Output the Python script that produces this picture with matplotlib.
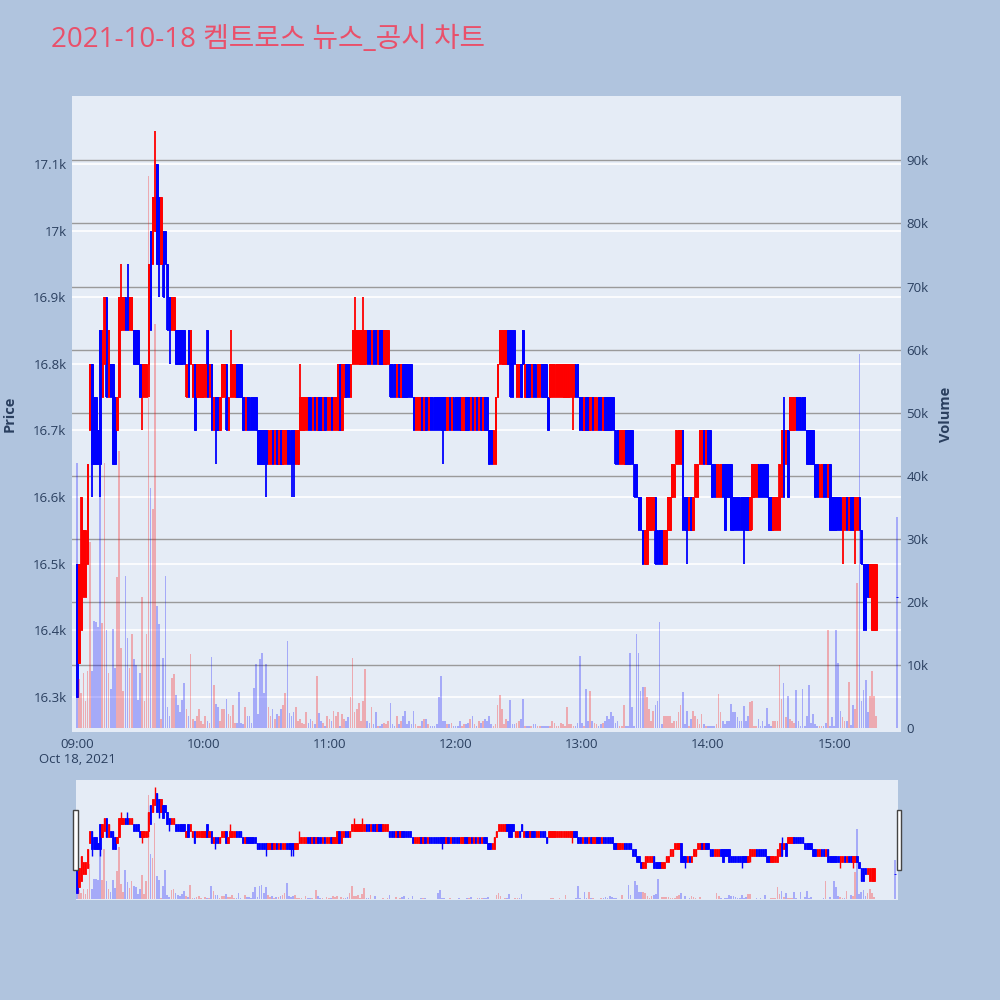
import matplotlib
matplotlib.use('Agg')
import matplotlib.pyplot as plt
import matplotlib.dates as mdates
from matplotlib.patches import Rectangle
from matplotlib.ticker import FuncFormatter, FixedLocator
import numpy as np
import pandas as pd

plt.rcParams['font.family'] = ['Open Sans', 'Noto Sans CJK KR', 'DejaVu Sans']

# one candle per minute 09:00-15:20, plus the 15:30 closing auction
times = list(pd.date_range('2021-10-18 09:00', '2021-10-18 15:20', freq='min')) + [pd.Timestamp('2021-10-18 15:30')]

opens = [
    16500, 16350, 16400, 16450, 16450, 16500, 16700, 16800, 16750, 16750,
    16700, 16850, 16750, 16800, 16900, 16750, 16800, 16800, 16750, 16700,
    16750, 16850, 16850, 16900, 16900, 16850, 16850, 16850, 16850, 16850,
    16800, 16750, 16750, 16750, 16800, 17000, 16950, 17000, 17100, 17050,
    16950, 17000, 17000, 16950, 16900, 16850, 16850, 16850, 16850, 16850,
    16850, 16850, 16750, 16850, 16800, 16750, 16800, 16750, 16750, 16750,
    16750, 16750, 16850, 16750,
    16800, 16700, 16750, 16750, 16700, 16750, 16750, 16800, 16700, 16750,
    16750, 16750, 16800, 16800, 16800, 16750, 16700, 16750, 16750, 16750,
    16750, 16750, 16700, 16700, 16700, 16700, 16700, 16650, 16650, 16700,
    16650, 16700, 16650, 16700, 16650, 16650, 16700, 16700, 16700, 16700,
    16650, 16650, 16700, 16700, 16700, 16700, 16750, 16750, 16700, 16750,
    16700, 16750, 16750, 16700, 16750, 16700, 16700, 16750, 16700, 16700,
    16700, 16800, 16700, 16750,
    16800, 16800, 16750, 16800, 16800, 16800, 16800, 16800, 16800, 16800,
    16850, 16850, 16800, 16850, 16850, 16800, 16850, 16850, 16800, 16800,
    16800, 16800, 16800, 16800, 16750, 16800, 16750, 16800, 16800, 16800,
    16800, 16800, 16750, 16700, 16700, 16700, 16750, 16700, 16750, 16700,
    16750, 16750, 16750, 16750, 16750, 16750, 16750, 16750, 16700, 16750,
    16700, 16750, 16750, 16750, 16750, 16700, 16700, 16750, 16750, 16700,
    16750, 16700, 16750, 16700,
    16750, 16700, 16750, 16750, 16700, 16700, 16650, 16650, 16750, 16800,
    16800, 16800, 16800, 16850, 16850, 16850, 16850, 16750, 16750, 16800,
    16850, 16750, 16800, 16800, 16750, 16800, 16800, 16750, 16750, 16800,
    16800, 16800, 16750, 16750, 16750, 16750, 16750, 16750, 16750, 16750,
    16750, 16750, 16750, 16750, 16750, 16800, 16800, 16750, 16750, 16700,
    16750, 16750, 16700, 16750, 16700, 16700, 16750, 16750, 16700, 16750,
    16750, 16750, 16750, 16750,
    16700, 16700, 16650, 16650, 16650, 16700, 16700, 16700, 16700, 16650,
    16650, 16600, 16600, 16550, 16500, 16500, 16550, 16550, 16550, 16600,
    16550, 16550, 16550, 16500, 16500, 16550, 16550, 16600, 16600, 16650,
    16650, 16650, 16700, 16600, 16600, 16550, 16600, 16550, 16600, 16600,
    16650, 16650, 16700, 16650, 16700, 16700, 16650, 16650, 16600, 16600,
    16600, 16650, 16650, 16650, 16650, 16650, 16600, 16600, 16600, 16600,
    16600, 16600, 16600, 16600, 16550,
    16600, 16600, 16600, 16650, 16650, 16650, 16650, 16650, 16600, 16600,
    16550, 16550, 16550, 16550, 16600, 16700, 16650, 16700, 16700, 16700,
    16700, 16750, 16750, 16750, 16750, 16750, 16700, 16700, 16700, 16700,
    16650, 16650, 16600, 16600, 16650, 16650, 16600, 16650, 16600, 16600,
    16600, 16600, 16600, 16550, 16550, 16600, 16550, 16600, 16600, 16550,
    16550, 16600, 16550, 16500, 16500, 16500, 16450, 16400, 16400, 16400,
    16450,
]

closes = [
    16300, 16500, 16600, 16550, 16550, 16650, 16800, 16650, 16650, 16650,
    16650, 16650, 16850, 16900, 16750, 16850, 16750, 16650, 16650, 16750,
    16900, 16900, 16900, 16850, 16850, 16900, 16900, 16800, 16800, 16800,
    16750, 16800, 16800, 16800, 16950, 16850, 17050, 17050, 16950, 16950,
    17050, 16900, 16950, 16850, 16850, 16900, 16900, 16800, 16800, 16800,
    16800, 16800, 16800, 16750, 16850, 16800, 16700, 16800, 16800, 16800,
    16800, 16800, 16750, 16800,
    16700, 16750, 16700, 16700, 16750, 16800, 16800, 16700, 16750, 16800,
    16800, 16800, 16750, 16750, 16750, 16700, 16750, 16700, 16700, 16700,
    16700, 16700, 16650, 16650, 16650, 16650, 16650, 16700, 16700, 16650,
    16700, 16650, 16700, 16650, 16700, 16700, 16650, 16650, 16650, 16650,
    16700, 16700, 16750, 16750, 16750, 16750, 16700, 16700, 16750, 16700,
    16750, 16700, 16700, 16750, 16700, 16750, 16750, 16700, 16750, 16750,
    16800, 16700, 16800, 16800,
    16750, 16750, 16800, 16850, 16850, 16850, 16850, 16850, 16850, 16850,
    16800, 16800, 16850, 16800, 16800, 16850, 16800, 16800, 16850, 16850,
    16850, 16750, 16750, 16750, 16800, 16750, 16800, 16750, 16750, 16750,
    16750, 16750, 16700, 16750, 16750, 16750, 16700, 16750, 16700, 16750,
    16700, 16700, 16700, 16700, 16700, 16700, 16700, 16700, 16750, 16700,
    16750, 16700, 16700, 16700, 16700, 16750, 16750, 16700, 16700, 16750,
    16700, 16750, 16700, 16750,
    16700, 16750, 16700, 16700, 16650, 16650, 16700, 16750, 16800, 16850,
    16850, 16850, 16850, 16800, 16750, 16750, 16800, 16800, 16800, 16750,
    16800, 16800, 16750, 16750, 16800, 16750, 16750, 16800, 16800, 16750,
    16750, 16750, 16700, 16800, 16800, 16800, 16800, 16800, 16800, 16800,
    16800, 16800, 16800, 16800, 16800, 16750, 16750, 16700, 16700, 16750,
    16700, 16700, 16750, 16700, 16750, 16750, 16700, 16700, 16750, 16700,
    16700, 16700, 16700, 16700,
    16650, 16650, 16700, 16700, 16700, 16650, 16650, 16650, 16650, 16600,
    16600, 16550, 16550, 16500, 16550, 16600, 16600, 16600, 16600, 16500,
    16500, 16500, 16500, 16550, 16550, 16600, 16600, 16650, 16650, 16700,
    16700, 16700, 16550, 16550, 16550, 16600, 16550, 16600, 16650, 16650,
    16700, 16700, 16650, 16700, 16650, 16650, 16600, 16600, 16650, 16650,
    16650, 16600, 16550, 16600, 16600, 16550, 16550, 16550, 16550, 16550,
    16550, 16550, 16550, 16550, 16600,
    16650, 16650, 16650, 16600, 16600, 16600, 16600, 16600, 16550, 16550,
    16600, 16600, 16600, 16650, 16700, 16600, 16700, 16600, 16750, 16750,
    16750, 16700, 16700, 16700, 16700, 16700, 16650, 16650, 16650, 16650,
    16600, 16600, 16650, 16650, 16600, 16600, 16650, 16550, 16550, 16550,
    16550, 16550, 16550, 16600, 16600, 16550, 16600, 16550, 16550, 16600,
    16600, 16550, 16500, 16400, 16400, 16450, 16500, 16500, 16500, 16500,
    16450,
]

# wicks that reach past the body (minute index -> price)
wick_high = {21: 16950, 24: 16950, 37: 17150, 73: 16850, 106: 16800,
             132: 16900, 136: 16900, 336: 16750}
wick_low = {7: 16600, 11: 16600, 31: 16700, 34: 16750, 39: 16900, 44: 16800,
            66: 16650, 90: 16600, 102: 16600, 103: 16600, 174: 16650, 236: 16700,
            290: 16500, 317: 16500, 321: 16550, 364: 16500, 370: 16500}

volumes = [
    42000, 7800, 5600, 8800, 4300, 9000, 29500, 9000, 17000, 16800,
    16000, 41600, 16600, 42000, 15500, 8700, 6200, 15800, 9600, 24000,
    44000, 12700, 5900, 24200, 14300, 9600, 15000, 11000, 10000, 4500,
    8700, 20800, 4300, 15000, 87600, 38000, 34800, 64000, 19300, 16500,
    1500, 11200, 24200, 3400, 1900, 8000, 8600, 5300, 3700, 2500,
    4500, 7100, 3100, 2000, 11800, 1500, 1200, 1900, 3100, 1200,
    600, 1900, 1200, 900,
    11300, 6800, 3900, 3300, 1200, 3100, 3100, 4700, 2200, 1900,
    3700, 900, 900, 5700, 900, 600, 3400, 1900, 1900, 900,
    6300, 10200, 2200, 10900, 12000, 5600, 10200, 3400, 2000, 3100,
    1400, 2200, 1900, 3000, 3700, 5600, 13800, 2400, 2000, 2500,
    3400, 1200, 1500, 900, 600, 2500, 900, 1500, 1200, 600,
    8200, 2400, 1200, 900, 300, 1900, 1500, 1200, 2800, 1900,
    2500, 300, 2200, 1500,
    1200, 1700, 5000, 11200, 2500, 3100, 4000, 1200, 4300, 9400,
    1200, 900, 3400, 600, 2500, 300, 300, 600, 900, 600,
    1200, 4000, 600, 300, 1900, 600, 1200, 1900, 2800, 600,
    1200, 600, 2800, 600, 300, 300, 1200, 1500, 1500, 600,
    300, 300, 300, 600, 5000, 8200, 1200, 1200, 600, 600,
    900, 300, 300, 300, 1200, 300, 600, 600, 900, 1500,
    1900, 600, 300, 1200,
    900, 1200, 1500, 1200, 2000, 600, 300, 600, 3700, 5300,
    3100, 600, 1500, 1200, 4500, 600, 600, 900, 1200, 1500,
    4700, 300, 300, 300, 300, 600, 600, 300, 300, 300,
    300, 300, 300, 300, 1200, 900, 300, 300, 900, 600,
    300, 3400, 600, 600, 300, 300, 900, 11500, 900, 300,
    6200, 1200, 5900, 1200, 900, 600, 300, 600, 900, 1200,
    1900, 1500, 2500, 1900,
    900, 1200, 300, 300, 3700, 300, 300, 12000, 3400, 300,
    15000, 12000, 5900, 6500, 6500, 4900, 3100, 1200, 2800, 3700,
    4300, 16900, 600, 1900, 2000, 1900, 2000, 900, 1200, 1200,
    2500, 3700, 5700, 600, 2800, 300, 1500, 2800, 1900, 1500,
    600, 2200, 600, 300, 300, 300, 300, 300, 600, 5500,
    2500, 1200, 600, 1200, 1200, 3900, 2500, 2500, 1700, 1200,
    1200, 3600, 1200, 1900, 4200,
    4300, 300, 300, 1500, 300, 1200, 300, 3200, 600, 300,
    1200, 1200, 1200, 10000, 4700, 7100, 1700, 5100, 1400, 1200,
    900, 6000, 1100, 300, 6200, 300, 2000, 6800, 900, 2200,
    600, 300, 300, 300, 300, 900, 15500, 300, 1700, 300,
    15600, 10400, 2800, 1700, 1200, 1200, 7300, 500, 3700, 3000,
    23000, 59300, 4300, 6000, 7600, 2500, 5100, 9000, 5100, 2000,
    33400,
]

price_ticks = [16300, 16400, 16500, 16600, 16700, 16800, 16900, 17000, 17100]
volume_ticks = [0, 10000, 20000, 30000, 40000, 50000, 60000, 70000, 80000, 90000]

title = '2021-10-18 켐트로스 뉴스_공시 차트'
UP, DOWN = '#FF0000', '#0000FF'
BG, PLOT_BG, TXT = '#B0C4DE', '#E5ECF6', '#2a3f5f'
price_lim = (16247, 17202)
vol_lim = (-600, 100200)

x = mdates.date2num(times)
o = np.array(opens, float)
c = np.array(closes, float)
hi = np.maximum(o, c)
lo = np.minimum(o, c)
for k, v in wick_high.items():
    hi[k] = v
for k, v in wick_low.items():
    lo[k] = v
vol = np.array(volumes, float)
cols = np.where(c > o, UP, DOWN)
minute = 1 / 1440
t0 = mdates.date2num(pd.Timestamp('2021-10-18 09:00'))


def draw(ax, axv, body_w, vol_w, body_lw, wick_lw):
    ax.vlines(x, lo, hi, colors=cols, lw=wick_lw, zorder=3)
    ax.bar(x, c - o, bottom=o, width=body_w * minute, color=cols,
           edgecolor=cols, linewidth=body_lw, zorder=3)
    axv.bar(x, vol, width=vol_w * minute, color=cols, alpha=0.28, linewidth=0)
    ax.set_ylim(*price_lim)
    axv.set_ylim(*vol_lim)
    for a in (ax, axv):
        for s in a.spines.values():
            s.set_visible(False)


fig = plt.figure(figsize=(10, 10), dpi=100, facecolor=BG)

# main chart
ax = fig.add_axes([0.072, 0.268, 0.829, 0.636], facecolor=PLOT_BG)
axv = ax.twinx()
axv.patch.set_visible(False)
draw(ax, axv, 0.7, 0.8, 0.7, 1.3)
ax.set_xlim(t0 - 2.4 * minute, t0 + 391.8 * minute)

ax.yaxis.set_major_locator(FixedLocator(price_ticks))
ax.yaxis.set_major_formatter(FuncFormatter(lambda v, p: f'{v / 1000:g}k'))
ax.grid(axis='y', color='white', lw=1.2, zorder=0)
ax.set_axisbelow(True)
# volume grid lines, placed under the candles
for v in volume_ticks[1:]:
    pv = price_lim[0] + (v - vol_lim[0]) / (vol_lim[1] - vol_lim[0]) * (price_lim[1] - price_lim[0])
    ax.axhline(pv, color='#9a9a9a', lw=1, zorder=1)
axv.yaxis.set_major_locator(FixedLocator(volume_ticks))
axv.yaxis.set_major_formatter(FuncFormatter(lambda v, p: '0' if v == 0 else f'{v / 1000:g}k'))

ax.xaxis.set_major_locator(mdates.HourLocator())
ax.xaxis.set_major_formatter(FuncFormatter(
    lambda v, p: mdates.num2date(v).strftime('%H:%M') + ('\nOct 18, 2021' if mdates.num2date(v).hour == 9 else '')))
ax.tick_params(axis='both', length=0, labelsize=9.5, labelcolor=TXT, pad=4)
axv.tick_params(axis='y', length=0, labelsize=9.5, labelcolor=TXT, pad=4)

fig.text(0.010, 0.586, 'Price', rotation=90, ha='center', va='center',
         fontsize=10.5, fontweight='bold', color=TXT)
fig.text(0.946, 0.586, 'Volume', rotation=90, ha='center', va='center',
         fontsize=10.5, fontweight='bold', color=TXT)
fig.text(0.051, 0.960, title, ha='left', va='center', fontsize=20, color='#E9506A')

# range slider
axs = fig.add_axes([0.076, 0.100, 0.822, 0.120], facecolor=PLOT_BG)
axsv = axs.twinx()
axsv.patch.set_visible(False)
draw(axs, axsv, 0.7, 0.8, 0.6, 1.0)
axs.set_xlim(t0 - 0.5 * minute, t0 + 391.5 * minute)
for a in (axs, axsv):
    a.set_xticks([])
    a.set_yticks([])
for hx in (0.0733, 0.8965):
    fig.patches.append(Rectangle((hx, 0.130), 0.0044, 0.060, transform=fig.transFigure,
                                 facecolor='white', edgecolor='#444444', lw=1, zorder=5))

fig.savefig('out.png', dpi=100, facecolor=BG)
